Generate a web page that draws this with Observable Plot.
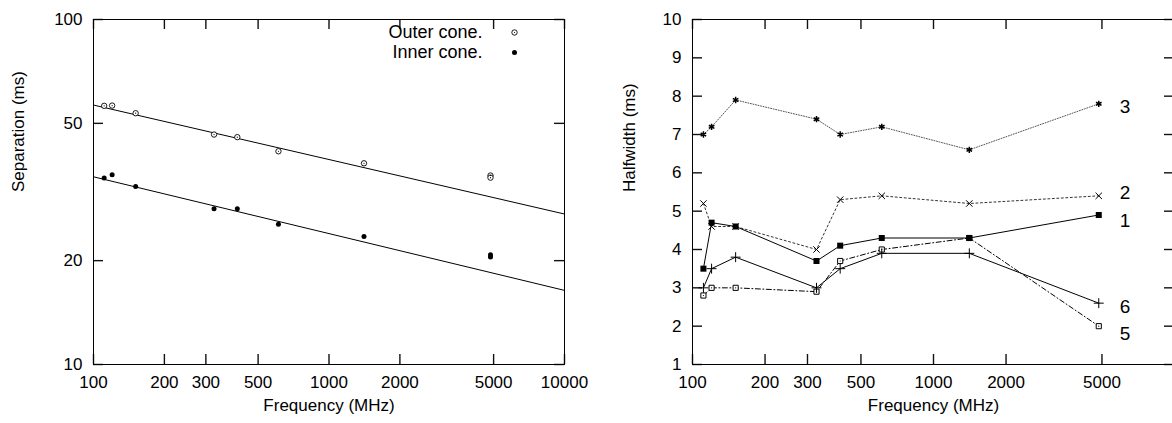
<!DOCTYPE html>
<html>
<head>
<meta charset="utf-8">
<script src="https://cdn.jsdelivr.net/npm/d3@7"></script>
<script src="https://cdn.jsdelivr.net/npm/@observablehq/plot@0.6"></script>
<style>
  html, body { margin: 0; padding: 0; background: white; }
  #wrap { position: relative; width: 1172px; height: 423px; overflow: hidden; background: white; }
  #left, #right { position: absolute; top: 0; }
  #left { left: 0; width: 600px; }
  #right { left: 600px; width: 582px; }
  #wrap svg { max-width: none !important; }
</style>
</head>
<body>
<div id="wrap"><div id="left"></div><div id="right"></div></div>
<script>
// ---------- Data: left panel (Separation vs frequency) ----------
const outerFreq = [111, 120, 151, 325, 408, 610, 1408, 4850, 4850];
const outerSep  = [56.2, 56.3, 53.5, 46.4, 45.6, 41.5, 38.3, 35.3, 34.8];
const innerFreq = [111, 120, 151, 325, 408, 610, 1408, 4850, 4850];
const innerSep  = [34.7, 35.5, 32.8, 28.3, 28.3, 25.5, 23.5, 20.8, 20.5];
const fitFreq   = [100, 10000];
const outerFit  = [56.5, 27.3];
const innerFit  = [35.0, 16.4];
const legendNames = ["Outer cone.", "Inner cone."];
const leftXTicks = [100, 200, 300, 500, 1000, 2000, 5000, 10000];
const leftYTicks = [10, 20, 50, 100];

// ---------- Data: right panel (Halfwidth vs frequency) ----------
const hwFreq = [111, 120, 151, 327, 410, 610, 1408, 4850];
const series1 = [3.5, 4.7, 4.6, 3.7, 4.1, 4.3, 4.3, 4.9];
const series2 = [5.2, 4.6, 4.6, 4.0, 5.3, 5.4, 5.2, 5.4];
const series3 = [7.0, 7.2, 7.9, 7.4, 7.0, 7.2, 6.6, 7.8];
const series5 = [2.8, 3.0, 3.0, 2.9, 3.7, 4.0, 4.3, 2.0];
const series6 = [3.0, 3.5, 3.8, 3.0, 3.5, 3.9, 3.9, 2.6];
const seriesNames = ["1", "2", "3", "5", "6"];
const seriesLabelY = [4.75, 5.47, 7.71, 1.80, 2.49];
const rightXTicks = [100, 200, 300, 500, 1000, 2000, 5000];
const rightXTickMarks = [100, 200, 300, 500, 1000, 2000, 5000, 10000];
const rightYTicks = [1, 2, 3, 4, 5, 6, 7, 8, 9, 10];

// ---------- helpers ----------
const FONT = "'Liberation Sans', Arial, Helvetica, sans-serif";
const TL = 10;
// inward mirrored ticks on all four sides, via rules inset from the frame
function innerTicks(xt, yt, fw, fh) {
  const st = {stroke: "#111", strokeWidth: 1.4};
  return [
    Plot.ruleX(xt, {x: d => d, insetTop: fh - TL, ...st}),
    Plot.ruleX(xt, {x: d => d, insetBottom: fh - TL, ...st}),
    Plot.ruleY(yt, {y: d => d, insetRight: fw - TL, ...st}),
    Plot.ruleY(yt, {y: d => d, insetLeft: fw - TL, ...st})
  ];
}
const style = {fontSize: "17px", fontFamily: FONT, background: "white", color: "black", overflow: "visible", maxWidth: "none"};
const H = 423, MT = 19, MB = 59, FH = H - MT - MB;

// ---------- Left chart ----------
const outer = outerFreq.map((f, i) => ({f, s: outerSep[i]}));
const inner = innerFreq.map((f, i) => ({f, s: innerSep[i]}));
const fitO = fitFreq.map((f, i) => ({f, s: outerFit[i]}));
const fitI = fitFreq.map((f, i) => ({f, s: innerFit[i]}));
const LW = 600, LML = 93, LMR = 36;

const left = Plot.plot({
  width: LW, height: H,
  marginLeft: LML, marginRight: LMR, marginTop: MT, marginBottom: MB,
  style,
  x: {type: "log", domain: [100, 10000], ticks: leftXTicks, tickFormat: d => String(d), tickSize: 0, tickPadding: 11, label: null},
  y: {type: "log", domain: [10, 100], ticks: leftYTicks, tickFormat: d => String(d), tickSize: 0, tickPadding: 11, label: null},
  marks: [
    ...innerTicks(leftXTicks, leftYTicks, LW - LML - LMR, FH),
    Plot.line(fitO, {x: "f", y: "s", stroke: "black", strokeWidth: 1}),
    Plot.line(fitI, {x: "f", y: "s", stroke: "black", strokeWidth: 1}),
    Plot.dot(outer, {x: "f", y: "s", r: 2.7, stroke: "black", strokeWidth: 0.9, fill: "white"}),
    Plot.dot(outer, {x: "f", y: "s", r: 0.6, fill: "black", stroke: "none"}),
    Plot.dot(inner, {x: "f", y: "s", r: 2.5, fill: "black", stroke: "none"}),
    Plot.frame({stroke: "black", strokeWidth: 1}),
    Plot.text([legendNames[0]], {frameAnchor: "top-right", dx: -82, dy: 13, textAnchor: "end", lineAnchor: "middle", fontSize: 18}),
    Plot.text([legendNames[1]], {frameAnchor: "top-right", dx: -82, dy: 33, textAnchor: "end", lineAnchor: "middle", fontSize: 18}),
    Plot.dot([0], {frameAnchor: "top-right", dx: -50, dy: 13, r: 2.7, stroke: "black", strokeWidth: 0.9, fill: "white"}),
    Plot.dot([0], {frameAnchor: "top-right", dx: -50, dy: 13, r: 0.6, fill: "black", stroke: "none"}),
    Plot.dot([0], {frameAnchor: "top-right", dx: -50, dy: 33, r: 2.5, fill: "black", stroke: "none"}),
    Plot.text(["Frequency (MHz)"], {frameAnchor: "bottom", dy: 41, lineAnchor: "middle", fontSize: 17}),
    Plot.text(["Separation (ms)"], {frameAnchor: "left", dx: -75, rotate: -90, lineAnchor: "middle", fontSize: 17})
  ]
});
document.getElementById("left").appendChild(left);

// ---------- Right chart ----------
const mk = (vals) => hwFreq.map((f, i) => ({f, v: vals[i]}));
const s1 = mk(series1), s2 = mk(series2), s3 = mk(series3), s5 = mk(series5), s6 = mk(series6);
const labels = seriesNames.map((n, i) => ({n, y: seriesLabelY[i]}));
const RW = 582, RML = 92, RMR = 8;

const right = Plot.plot({
  width: RW, height: H,
  marginLeft: RML, marginRight: RMR, marginTop: MT, marginBottom: MB,
  style,
  x: {type: "log", domain: [100, 10000], ticks: rightXTicks, tickFormat: d => String(d), tickSize: 0, tickPadding: 11, label: null},
  y: {type: "linear", domain: [1, 10], ticks: rightYTicks, tickFormat: d => String(d), tickSize: 0, tickPadding: 11, label: null},
  marks: [
    ...innerTicks(rightXTickMarks, rightYTicks, RW - RML - RMR, FH),
    // series 3: asterisks, fine dotted grey
    Plot.line(s3, {x: "f", y: "v", stroke: "#555", strokeWidth: 1, strokeDasharray: "1,1.6"}),
    Plot.dot(s3, {x: "f", y: "v", symbol: "asterisk", r: 3.0, stroke: "black", strokeWidth: 1.5}),
    // series 2: crosses, dotted
    Plot.line(s2, {x: "f", y: "v", stroke: "#333", strokeWidth: 1, strokeDasharray: "2,2.5"}),
    Plot.dot(s2, {x: "f", y: "v", symbol: "times", r: 3.0, stroke: "black", strokeWidth: 1}),
    // series 5: open squares, dash-dot
    Plot.line(s5, {x: "f", y: "v", stroke: "black", strokeWidth: 1, strokeDasharray: "5,2.5,1,2.5"}),
    Plot.dot(s5, {x: "f", y: "v", symbol: "square", r: 2.9, stroke: "black", strokeWidth: 1, fill: "white"}),
    Plot.dot(s5, {x: "f", y: "v", r: 0.6, fill: "black", stroke: "none"}),
    // series 6: plus, solid
    Plot.line(s6, {x: "f", y: "v", stroke: "black", strokeWidth: 1}),
    Plot.dot(s6, {x: "f", y: "v", symbol: "plus", r: 3.3, stroke: "black", strokeWidth: 1}),
    // series 1: filled squares, solid
    Plot.line(s1, {x: "f", y: "v", stroke: "black", strokeWidth: 1}),
    Plot.dot(s1, {x: "f", y: "v", symbol: "square", r: 3.4, fill: "black", stroke: "none"}),
    Plot.frame({stroke: "black", strokeWidth: 1}),
    Plot.text(labels, {x: hwFreq[hwFreq.length - 1], y: "y", text: "n", textAnchor: "start", dx: 21, fontSize: 19}),
    Plot.text(["Frequency (MHz)"], {frameAnchor: "bottom", dy: 41, lineAnchor: "middle", fontSize: 17}),
    Plot.text(["Halfwidth (ms)"], {frameAnchor: "left", dx: -63, rotate: -90, lineAnchor: "middle", fontSize: 17})
  ]
});
document.getElementById("right").appendChild(right);
</script>
</body>
</html>
